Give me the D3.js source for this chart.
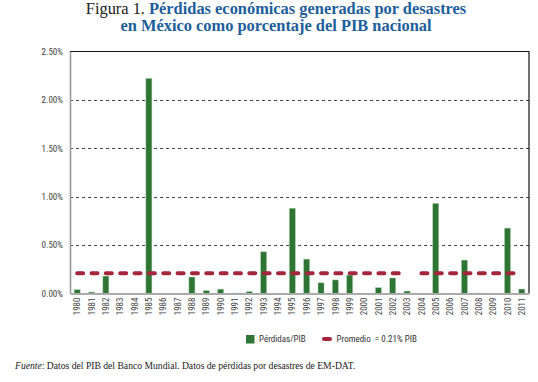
<!DOCTYPE html>
<html><head><meta charset="utf-8">
<script src="https://cdn.jsdelivr.net/npm/d3@7"></script>
<style>
html,body{margin:0;padding:0;background:#fff;}
svg{display:block;}
</style></head>
<body>
<script>
const years = [1980,1981,1982,1983,1984,1985,1986,1987,1988,1989,1990,1991,1992,1993,1994,1995,1996,1997,1998,1999,2000,2001,2002,2003,2004,2005,2006,2007,2008,2009,2010,2011];
const perdidas = [0.04,0.015,0.18,0,0,2.22,0,0,0.17,0.03,0.045,0.005,0.02,0.43,0,0.88,0.355,0.11,0.14,0.19,0.003,0.06,0.16,0.025,0,0.93,0.003,0.345,0.005,0.002,0.675,0.046];
const promedio = 0.21;
const promedioSegments = [[1980,2003],[2004,2011]];
const yTicks = [0,0.5,1.0,1.5,2.0,2.5];
const titleLine1a = "Figura 1. ";
const titleLine1b = "Pérdidas económicas generadas por desastres";
const titleLine2 = "en México como porcentaje del PIB nacional";
const legendLabels = ["Pérdidas/PIB","Promedio  = 0.21% PIB"];

(function(){
const W = 538, H = 382;
const svg = d3.select("body").append("svg").attr("width",W).attr("height",H);

const mLeft = 70, mRight = 529, mTop = 51.3, mBottom = 293.5;
const x = d3.scaleBand().domain(years).range([mLeft,mRight]).paddingInner(0.58).paddingOuter(0.29);
const y = d3.scaleLinear().domain([0,2.5]).range([mBottom,mTop]);
const cx = d => x(d) + x.bandwidth()/2;

const narrow = "'Liberation Sans Narrow','Arial Narrow','Roboto Condensed',sans-serif";
const serif = "'Liberation Serif','DejaVu Serif',serif";

// title
const t1 = svg.append("text").attr("x",276).attr("y",14).attr("text-anchor","middle")
  .style("font-family",serif).style("font-size","16.4px");
t1.append("tspan").text(titleLine1a).attr("fill","#222");
t1.append("tspan").text(titleLine1b).attr("fill","#1d5e9b").attr("font-weight","bold");
svg.append("text").attr("x",276).attr("y",31).attr("text-anchor","middle")
  .style("font-family",serif).style("font-size","16.4px").attr("font-weight","bold")
  .attr("fill","#1d5e9b").text(titleLine2);

// gridlines
svg.append("g").selectAll("line").data(yTicks.filter(v=>v>0 && v<2.5)).join("line")
  .attr("x1",mLeft).attr("x2",mRight).attr("y1",d=>Math.round(y(d))+0.5).attr("y2",d=>Math.round(y(d))+0.5)
  .attr("stroke","#444").attr("stroke-width",1).attr("stroke-dasharray","3,3");

// frame top/right
svg.append("path").attr("d",`M${mLeft},${Math.round(mTop)+0.5}H${mRight}V${mBottom}`)
  .attr("fill","none").attr("stroke","#111").attr("stroke-width",1.2);

// y axis
const yAxis = d3.axisLeft(y).tickValues(yTicks).tickFormat(d=>d3.format(".2f")(d)+"%").tickSize(0).tickPadding(7);
const gy = svg.append("g").attr("transform",`translate(${mLeft},0)`).call(yAxis);
gy.select(".domain").attr("stroke","#999").attr("stroke-width",1.6);
gy.selectAll("text").style("font-family",narrow).style("font-size","9px").attr("fill","#444");

// bars
svg.append("g").selectAll("rect").data(years).join("rect")
  .attr("x",d=>x(d)).attr("width",x.bandwidth())
  .attr("y",(d,i)=>y(perdidas[i])).attr("height",(d,i)=>y(0)-y(perdidas[i]))
  .attr("fill","#2e7535").attr("stroke","#a9cfab").attr("stroke-width",0.5);

// x axis
const xAxis = d3.axisBottom(x).tickSize(0).tickPadding(0);
const gx = svg.append("g").attr("transform",`translate(0,${mBottom})`).call(xAxis);
gx.select(".domain").attr("stroke","#aaa").attr("stroke-width",2);
gx.selectAll("text").style("font-family",narrow).style("font-size","9px").attr("fill","#444")
  .attr("text-anchor","end").attr("transform","rotate(-90)").attr("x",-4).attr("y",0).attr("dy","0.35em");

// promedio line
const line = d3.line().x(d=>cx(d)).y(()=>y(promedio));
svg.append("g").selectAll("path").data(promedioSegments).join("path")
  .attr("d",s=>line(years.filter(yr=>yr>=s[0]&&yr<=s[1])))
  .attr("fill","none").attr("stroke","#a3263c").attr("stroke-width",4)
  .attr("stroke-linecap","round").attr("stroke-dasharray",`6,${x.step()-6}`);

// legend
const lg = svg.append("g");
lg.append("rect").attr("x",246).attr("y",335).attr("width",8.5).attr("height",8.5).attr("fill","#2e7535");
lg.append("text").attr("x",259).attr("y",339).attr("dy","0.35em").text(legendLabels[0])
  .style("font-family",narrow).style("font-size","9px").attr("fill","#333");
lg.append("line").attr("x1",324).attr("x2",330).attr("y1",339).attr("y2",339)
  .attr("stroke","#a3263c").attr("stroke-width",4).attr("stroke-linecap","round");
lg.append("text").attr("x",336.5).attr("y",339).attr("dy","0.35em").text(legendLabels[1])
  .style("font-family",narrow).style("font-size","9px").attr("fill","#333").style("white-space","pre");

// footer
const ft = svg.append("text").attr("transform","translate(15,369) scale(0.877,1)")
  .style("font-family",serif).style("font-size","11px").attr("fill","#222");
ft.append("tspan").text("Fuente").attr("font-style","italic");
ft.append("tspan").text(": Datos del PIB del Banco Mundial. Datos de pérdidas por desastres de EM-DAT.");
})();
</script>
</body></html>
